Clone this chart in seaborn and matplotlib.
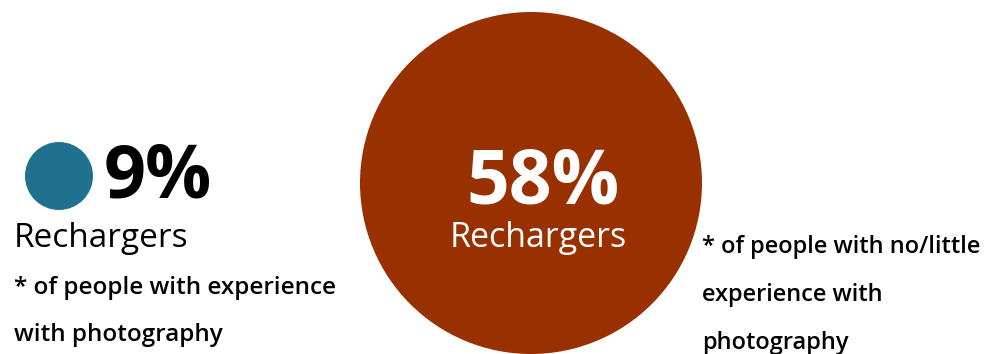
import matplotlib
matplotlib.use('Agg')
import matplotlib.pyplot as plt
from matplotlib.patches import Circle
import seaborn as sns

# data
groups = ['with experience', 'no/little experience']
values = [9, 58]
label = 'Rechargers'
notes = ['* of people with experience\nwith photography',
         '* of people with no/little\nexperience with\nphotography']
colors = ['#20718f', '#983000']

sns.set_theme(style='white')
plt.rcParams['font.family'] = ['Open Sans', 'DejaVu Sans']

fig = plt.figure(figsize=(10.05, 3.54), dpi=100)
ax = fig.add_axes([0, 0, 1, 1])
ax.set_xlim(0, 1005)
ax.set_ylim(354, 0)
ax.axis('off')

# small circle + text on the left
ax.add_patch(Circle((59, 176), 34, color=colors[0], lw=0))
ax.text(104, 198, f'{values[0]}%', fontsize=53, fontweight='bold',
        color='black', va='baseline', ha='left')
ax.text(14, 247, label, fontsize=24, color='black', va='baseline')
for i, line in enumerate(notes[0].split('\n')):
    ax.text(14, 294 + i * 47, line, fontsize=17.5, color='black',
            va='baseline', fontweight='semibold')

# big circle
ax.add_patch(Circle((531, 183), 171, color=colors[1], lw=0))
ax.text(543, 203, f'{values[1]}%', fontsize=54, fontweight='bold',
        color='white', va='baseline', ha='center')
ax.text(538, 247, label, fontsize=24.5, color='white',
        va='baseline', ha='center')
for i, line in enumerate(notes[1].split('\n')):
    ax.text(702, 253 + i * 48, line, fontsize=17, color='black',
            va='baseline', fontweight='semibold')

plt.savefig('out.png', dpi=100)
